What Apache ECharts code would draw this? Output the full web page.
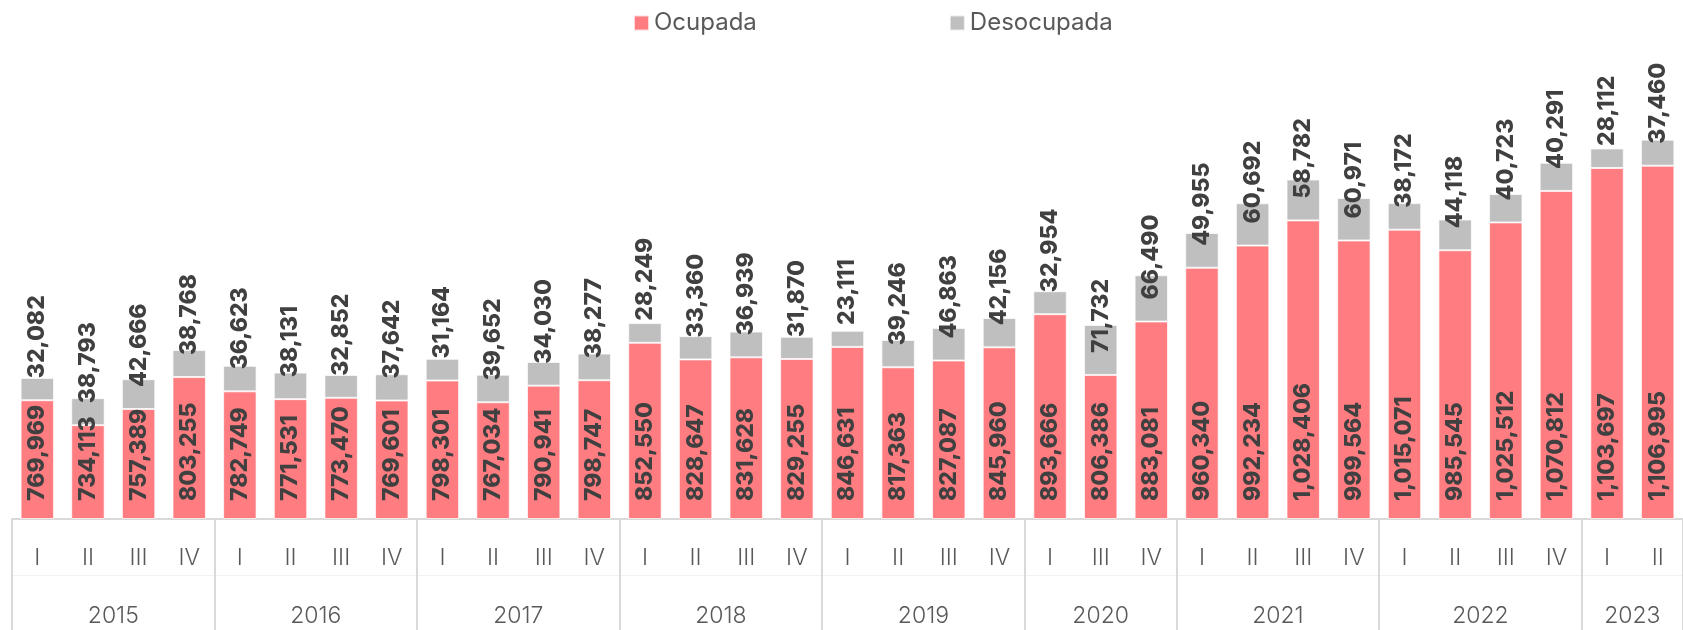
<!DOCTYPE html>
<html>
<head>
<meta charset="utf-8">
<script src="https://cdn.jsdelivr.net/npm/echarts@6/dist/echarts.min.js"></script>
<style>
  html, body { margin: 0; padding: 0; background: #ffffff; }
  #chart { width: 1683px; height: 630px; }
</style>
</head>
<body>
<div id="chart"></div>
<script>
// ---- data ----
const quarterLabels = [
  'I','II','III','IV',
  'I','II','III','IV',
  'I','II','III','IV',
  'I','II','III','IV',
  'I','II','III','IV',
  'I','III','IV',
  'I','II','III','IV',
  'I','II','III','IV',
  'I','II'
];
const yearLabels = ['2015','2016','2017','2018','2019','2020','2021','2022','2023'];
const yearSizes = [4, 4, 4, 4, 4, 3, 4, 4, 2];
const ocupada = [
  769969, 734113, 757389, 803255,
  782749, 771531, 773470, 769601,
  798301, 767034, 790941, 798747,
  852550, 828647, 831628, 829255,
  846631, 817363, 827087, 845960,
  893666, 806386, 883081,
  960340, 992234, 1028406, 999564,
  1015071, 985545, 1025512, 1070812,
  1103697, 1106995
];
const desocupada = [
  32082, 38793, 42666, 38768,
  36623, 38131, 32852, 37642,
  31164, 39652, 34030, 38277,
  28249, 33360, 36939, 31870,
  23111, 39246, 46863, 42156,
  32954, 71732, 66490,
  49955, 60692, 58782, 60971,
  38172, 44118, 40723, 40291,
  28112, 37460
];
const seriesNames = ['Ocupada', 'Desocupada'];

// ---- derived: two-level axis on a half-quarter point axis ----
const yearStartQ = [];
let acc = 0;
yearSizes.forEach(n => { yearStartQ.push(acc); acc += n; });
const totalQ = acc;
const quarterTickSet = new Set(yearStartQ);
const halfPoints = [];
for (let i = 0; i <= totalQ * 2; i++) halfPoints.push('');
const halfTickSet = new Set();
const halfLabelSet = new Set();
yearStartQ.forEach((s, k) => {
  halfTickSet.add(2 * s);
  const c = 2 * s + yearSizes[k];
  halfLabelSet.add(c);
  halfPoints[c] = yearLabels[k];
});
halfTickSet.add(totalQ * 2);

const fmt = v => Number(v).toLocaleString('en-US');
const FONT = 'Inter, "Noto Sans", sans-serif';
const gridLine = '#d9d9d9';
const LABEL_SIZE = 23;
const LABEL_WEIGHT = 800;
const PINK_DIST = 18;
const GRAY_DIST = 22;
const MIN_GAP = 12;
const Y_MIN = 600000;

const measureCtx = document.createElement('canvas').getContext('2d');
measureCtx.font = LABEL_WEIGHT + ' ' + LABEL_SIZE + 'px ' + FONT;
const textLen = s => measureCtx.measureText(s).width;

const chart = echarts.init(document.getElementById('chart'), null, { renderer: 'canvas' });

const labelBase = {
  show: true,
  position: 'insideBottom',
  rotate: 90,
  align: 'left',
  verticalAlign: 'middle',
  color: '#404040',
  fontFamily: FONT,
  fontWeight: LABEL_WEIGHT,
  fontSize: LABEL_SIZE,
  formatter: p => fmt(p.value)
};

// keep the Desocupada label clear of the Ocupada label below it
function grayLabelLayout(params) {
  try {
    const i = params.dataIndex;
    const base = chart.convertToPixel({ yAxisIndex: 0 }, Y_MIN);
    const pinkLabelTop = base - PINK_DIST - textLen(fmt(ocupada[i]));
    const grayBottom = params.labelRect.y + params.labelRect.height;
    const limit = pinkLabelTop - MIN_GAP;
    if (grayBottom > limit) return { dy: limit - grayBottom };
  } catch (e) {}
  return {};
}

chart.setOption({
  animation: false,
  backgroundColor: '#ffffff',
  legend: {
    data: seriesNames,
    left: 628,
    top: 6,
    icon: 'rect',
    itemWidth: 15,
    itemHeight: 15,
    itemGap: 192,
    textStyle: { fontFamily: FONT, fontSize: 24, color: '#595959' }
  },
  grid: { left: 12, right: 0, top: 101, height: 417.5, containLabel: false },
  xAxis: [
    {
      type: 'category',
      data: quarterLabels,
      position: 'bottom',
      axisLine: { show: true, lineStyle: { color: gridLine, width: 2 } },
      axisTick: {
        show: true,
        length: 57,
        interval: (i) => quarterTickSet.has(i),
        lineStyle: { color: gridLine, width: 2 }
      },
      axisLabel: {
        interval: 0,
        margin: 28,
        fontFamily: FONT,
        fontWeight: 300,
        fontSize: 23,
        color: '#595959'
      },
      splitLine: { show: false }
    },
    {
      type: 'category',
      data: halfPoints,
      boundaryGap: false,
      position: 'bottom',
      offset: 57,
      axisLine: { show: true, lineStyle: { color: '#f2f2f2', width: 1 } },
      axisTick: {
        show: true,
        length: 60,
        interval: (i) => halfTickSet.has(i),
        lineStyle: { color: gridLine, width: 2 }
      },
      axisLabel: {
        interval: (i) => halfLabelSet.has(i),
        margin: 29,
        fontFamily: FONT,
        fontWeight: 300,
        fontSize: 23,
        color: '#595959'
      },
      splitLine: { show: false }
    }
  ],
  yAxis: {
    type: 'value',
    min: Y_MIN,
    max: 1200000,
    show: false,
    splitLine: { show: false }
  },
  series: [
    {
      name: seriesNames[0],
      type: 'bar',
      stack: 'total',
      xAxisIndex: 0,
      data: ocupada,
      barWidth: '66%',
      itemStyle: { color: '#FF7C80', borderColor: 'rgba(255,255,255,0.7)', borderWidth: 1 },
      label: Object.assign({}, labelBase, { distance: PINK_DIST })
    },
    {
      name: seriesNames[1],
      type: 'bar',
      stack: 'total',
      xAxisIndex: 0,
      data: desocupada,
      barWidth: '66%',
      itemStyle: { color: '#BFBFBF', borderColor: 'rgba(255,255,255,0.7)', borderWidth: 1 },
      label: Object.assign({}, labelBase, { distance: GRAY_DIST }),
      labelLayout: grayLabelLayout
    }
  ]
});
</script>
</body>
</html>
